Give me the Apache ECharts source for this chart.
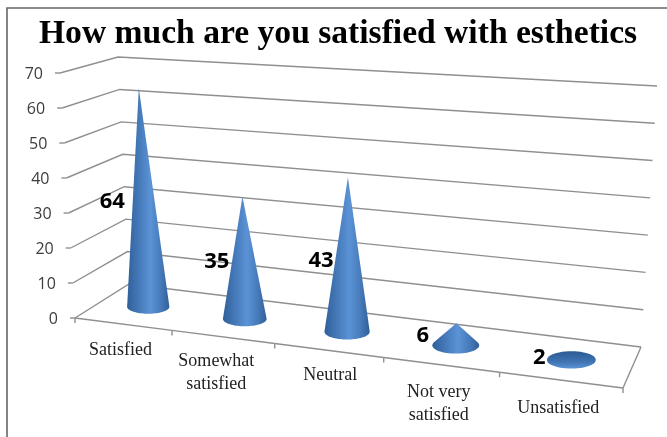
<!DOCTYPE html>
<html>
<head>
<meta charset="utf-8">
<style>html,body{margin:0;padding:0;background:#fff}#c{width:667px;height:437px}</style>
<script src="https://cdn.jsdelivr.net/npm/echarts@6/dist/echarts.min.js"></script>
</head>
<body>
<div id="c"></div>
<script>
var titleText = 'How much are you satisfied with esthetics';
var categories = ['Satisfied', 'Somewhat\nsatisfied', 'Neutral', 'Not very\nsatisfied', 'Unsatisfied'];
var values = [64, 35, 43, 6, 2];
var yTicks = [0, 10, 20, 30, 40, 50, 60, 70];

// Layout only: the perspective box the plot is projected into.
var G = {left: 75, top: 73, width: 548, height: 245};
var box = {
  fl0: [75, 318], fr0: [623, 388], bl0: [129, 284], br0: [641, 347],
  fl1: [60, 73], fr1: [643, 110], bl1: [118, 57], br1: [657, 86]
};
var persp = 1.1625, coneDepth = 0.5;
var labelDx = [-36, -28, -26, -33, -32];
var labelDy = [4, 4, 6, 1, 2];
var catLabelDx = [-3, -7, 1, -3, -3];
var catLabelDy = [15, 13, 13, 16, 17];
var LINE = '#8f8f8f';

function mix(a, b, t) { return [a[0] + (b[0] - a[0]) * t, a[1] + (b[1] - a[1]) * t]; }
function warp(u) { return u / (persp + (1 - persp) * u); }
// u: 0..1 along categories, v: 0..1 along values, d: 0 front .. 1 back
function proj(u, v, d) {
  var f = warp(u);
  var front = mix(mix(box.fl0, box.fr0, f), mix(box.fl1, box.fr1, f), v);
  var back = mix(mix(box.bl0, box.br0, f), mix(box.bl1, box.br1, f), v);
  return mix(front, back, d);
}
function vOf(api, val) { return (G.top + G.height - api.coord([0, val])[1]) / G.height; }
function uOf(api, idx) { return (api.coord([idx, 0])[0] - G.left) / G.width; }
function line(pts, w) {
  return {type: 'polyline', shape: {points: pts}, silent: true,
    style: {stroke: LINE, lineWidth: w || 1.4, fill: null}};
}

function renderWall(params, api) {
  var t = api.value(1), v = vOf(api, t);
  var a = proj(0, v, 0), b = proj(0, v, 1), c = proj(1, v, 1);
  return {type: 'group', children: [
    line([a, b, c]),
    line([[a[0] - 5, a[1]], a]),
    {type: 'text', silent: true, style: {text: String(t), x: a[0] - 17, y: a[1] + 1,
      align: 'right', verticalAlign: 'middle', fill: '#3c3c3c',
      font: '16px "Open Sans", sans-serif'}}
  ]};
}

function renderFloor(params, api) {
  var i = api.value(0), n = categories.length;
  var u0 = i / n, u1 = (i + 1) / n;
  var p0 = proj(u0, 0, 0), p1 = proj(u1, 0, 0);
  var kids = [line([p0, p1]), line([p1, [p1[0], p1[1] + 5]])];
  if (i === 0) kids.push(line([p0, [p0[0], p0[1] + 5]]));
  if (i === n - 1) kids.push(line([proj(1, 0, 1), proj(1, 0, 0)]));
  var mid = mix(p0, p1, 0.5);
  kids.push({type: 'text', silent: true, style: {
    text: categories[i], x: mid[0] + catLabelDx[i], y: mid[1] + catLabelDy[i],
    align: 'center', verticalAlign: 'top', lineHeight: 23, fill: '#222',
    font: '18px "Liberation Serif", serif'}});
  return {type: 'group', children: kids};
}

function renderCone(params, api) {
  var i = api.value(0), val = api.value(1);
  var u = uOf(api, i), v = vOf(api, val), n = categories.length;
  var c = proj(u, 0, coneDepth), tip = proj(u, v, coneDepth);
  var cellW = proj((i + 1) / n, 0, 0)[0] - proj(i / n, 0, 0)[0];
  var rx = 0.125 * cellW + 9;
  var ry = 0.2 * (proj(u, 0, 0)[1] - proj(u, 0, 1)[1]) + (i / n) * 0.8;
  var h = c[1] - tip[1], pts = [], k;
  var gradH = {type: 'linear', x: 0, y: 0, x2: 1, y2: 0, colorStops: [
    {offset: 0, color: '#2f6099'}, {offset: 0.3, color: '#477bbb'},
    {offset: 0.55, color: '#5b93d6'}, {offset: 0.8, color: '#467ab9'},
    {offset: 1, color: '#2f6099'}]};
  var gradV = {type: 'linear', x: 0, y: 0, x2: 0, y2: 1, colorStops: [
    {offset: 0, color: '#2c5a92'}, {offset: 0.6, color: '#3f73b2'},
    {offset: 1, color: '#5a93d6'}]};
  if (h <= ry * 1.15) {
    for (k = 0; k < 48; k++) {
      var a0 = k / 48 * Math.PI * 2;
      pts.push([c[0] + rx * Math.cos(a0), c[1] + ry * Math.sin(a0)]);
    }
  } else {
    var sinT = ry / h, start = Math.asin(sinT);
    pts.push(tip);
    for (k = 0; k <= 40; k++) {
      var a1 = -start + (Math.PI + 2 * start) * k / 40;
      pts.push([c[0] + rx * Math.cos(a1), c[1] + ry * Math.sin(a1)]);
    }
  }
  return {type: 'group', children: [
    {type: 'polygon', silent: true, shape: {points: pts},
      style: {fill: h <= ry * 1.15 ? gradV : gradH}},
    {type: 'text', silent: true, style: {text: String(val),
      x: c[0] + labelDx[i], y: (c[1] + tip[1]) / 2 + labelDy[i],
      align: 'center', verticalAlign: 'middle', fill: '#000',
      font: 'bold 22px "Open Sans", sans-serif'}}
  ]};
}

var chart = echarts.init(document.getElementById('c'), null, {renderer: 'canvas'});
chart.setOption({
  animation: false,
  backgroundColor: '#fff',
  title: {text: titleText, left: 34, top: 12, itemGap: 0,
    textStyle: {fontFamily: '"Liberation Serif", serif', fontWeight: 'bold', fontSize: 33.6, color: '#000'}},
  grid: {left: G.left, top: G.top, width: G.width, height: G.height},
  xAxis: {type: 'category', data: categories, show: false},
  yAxis: {type: 'value', min: 0, max: 70, interval: 10, show: false},
  graphic: [
    {type: 'polyline', silent: true, shape: {points: [[7, 437], [7, 8], [667, 8]]},
      style: {stroke: '#666', lineWidth: 1.6, fill: null}}
  ],
  series: [
    {type: 'custom', name: 'walls', clip: false, z: 1, renderItem: renderWall,
      encode: {x: 0, y: 1}, data: yTicks.map(function (t) { return [0, t]; })},
    {type: 'custom', name: 'floor', clip: false, z: 2, renderItem: renderFloor,
      encode: {x: 0, y: 1}, data: categories.map(function (c, i) { return [i, 0]; })},
    {type: 'custom', name: 'Satisfaction', clip: false, z: 3, renderItem: renderCone,
      encode: {x: 0, y: 1}, data: values.map(function (x, i) { return [i, x]; })}
  ]
});
</script>
</body>
</html>
